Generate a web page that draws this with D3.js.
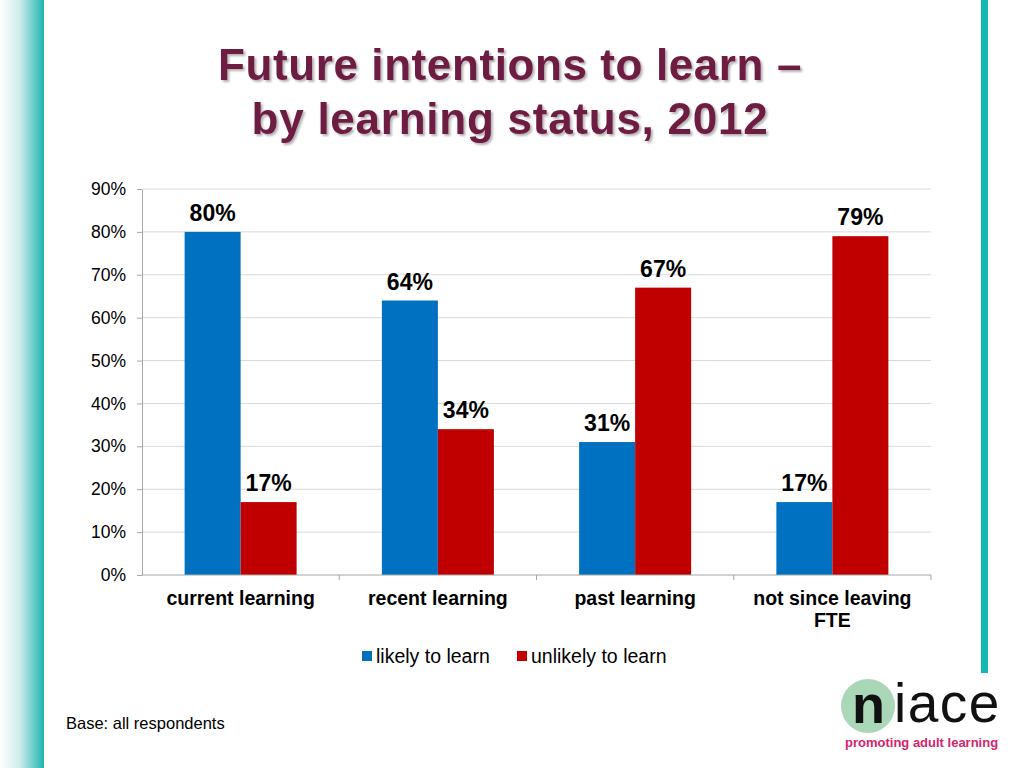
<!DOCTYPE html>
<html><head><meta charset="utf-8">
<script src="https://cdn.jsdelivr.net/npm/d3@7"></script>
<style>body{margin:0;background:#fff;}svg{display:block;font-family:"Liberation Sans",Arial,sans-serif;}</style>
</head><body>
<svg id="c" width="1024" height="768"></svg>
<script>
const categories = ["current learning", "recent learning", "past learning", "not since leaving FTE"];
const categoryLines = [["current learning"], ["recent learning"], ["past learning"], ["not since leaving", "FTE"]];
const seriesNames = ["likely to learn", "unlikely to learn"];
const likely = [80, 64, 31, 17];
const unlikely = [17, 34, 67, 79];
const yTicks = [0, 10, 20, 30, 40, 50, 60, 70, 80, 90];
const colors = ["#0070c0", "#c00000"];

const svg = d3.select("#c");
const defs = svg.append("defs");
const lg = defs.append("linearGradient").attr("id", "lg").attr("x1", 0).attr("x2", 1).attr("y1", 0).attr("y2", 0);
lg.append("stop").attr("offset", 0).attr("stop-color", "#ffffff");
lg.append("stop").attr("offset", 0.45).attr("stop-color", "#cdeceb");
lg.append("stop").attr("offset", 1).attr("stop-color", "#1fb5ae");
svg.append("rect").attr("x", 0).attr("y", 0).attr("width", 44).attr("height", 768).attr("fill", "url(#lg)");
svg.append("rect").attr("x", 981).attr("y", 0).attr("width", 7).attr("height", 673).attr("fill", "#14b8b0");

const flt = defs.append("filter").attr("id", "sh").attr("x", "-5%").attr("y", "-20%").attr("width", "110%").attr("height", "140%");
flt.append("feDropShadow").attr("dx", 2).attr("dy", 2).attr("stdDeviation", 1.2).attr("flood-color", "#000").attr("flood-opacity", 0.3);

const title = svg.append("g").attr("filter", "url(#sh)");
[["Future intentions to learn –", 80, 0.6], ["by learning status, 2012", 134, 0.75]].forEach(([t, y, ls]) => {
  title.append("text").attr("x", 510).attr("y", y).attr("text-anchor", "middle")
    .attr("font-size", 44).attr("font-weight", "bold").attr("letter-spacing", ls).attr("fill", "#6d1a42").text(t);
});

const x0 = d3.scaleBand().domain(categories).range([142, 931]);
const x1 = d3.scaleBand().domain(seriesNames).range([0, 112]);
const y = d3.scaleLinear().domain([0, 90]).range([575, 189]);

const grid = svg.append("g");
grid.selectAll("line").data(yTicks.slice(1)).join("line")
  .attr("x1", 142).attr("x2", 931).attr("y1", d => y(d)).attr("y2", d => y(d))
  .attr("stroke", "#d9d9d9").attr("stroke-width", 1);

const yAxis = svg.append("g").attr("transform", "translate(142,0)")
  .call(d3.axisLeft(y).tickValues(yTicks).tickFormat(d => d + "%").tickSize(5).tickSizeOuter(0));
yAxis.select(".domain").attr("stroke", "#a6a6a6");
yAxis.selectAll(".tick line").attr("stroke", "#a6a6a6");
yAxis.selectAll(".tick text").attr("font-size", 17.5).attr("fill", "#000").attr("x", -16)
  .attr("font-family", "Liberation Sans, Arial, sans-serif");

const data = categories.map((c, i) => ({c, vals: [likely[i], unlikely[i]]}));
const groups = svg.append("g").selectAll("g").data(data).join("g")
  .attr("transform", d => `translate(${x0(d.c) + (x0.bandwidth() - 112) / 2},0)`);
groups.selectAll("rect").data(d => d.vals.map((v, k) => ({v, k}))).join("rect")
  .attr("x", d => x1(seriesNames[d.k])).attr("width", x1.bandwidth())
  .attr("y", d => y(d.v)).attr("height", d => y(0) - y(d.v))
  .attr("fill", d => colors[d.k]);
groups.selectAll("text").data(d => d.vals.map((v, k) => ({v, k}))).join("text")
  .attr("x", d => x1(seriesNames[d.k]) + x1.bandwidth() / 2)
  .attr("y", d => y(d.v) - 11).attr("text-anchor", "middle")
  .attr("font-size", 23).attr("font-weight", "bold").attr("fill", "#000")
  .text(d => d.v + "%");

const xAxis = svg.append("g").attr("transform", "translate(0,575)");
xAxis.append("line").attr("x1", 142).attr("x2", 931).attr("stroke", "#a6a6a6");
xAxis.selectAll("line.t").data(categories).join("line").attr("class", "t")
  .attr("x1", d => x0(d) + x0.bandwidth()).attr("x2", d => x0(d) + x0.bandwidth())
  .attr("y1", 0).attr("y2", 5).attr("stroke", "#a6a6a6");
xAxis.selectAll("text").data(categories).join("text")
  .attr("x", d => x0(d) + x0.bandwidth() / 2).attr("text-anchor", "middle")
  .attr("font-size", 19.5).attr("font-weight", "bold").attr("fill", "#000")
  .each(function(d, i) {
    d3.select(this).selectAll("tspan").data(categoryLines[i]).join("tspan")
      .attr("x", x0(d) + x0.bandwidth() / 2).attr("y", (l, j) => 30 + j * 22).text(l => l);
  });

const legend = svg.append("g");
const legX = [362, 517];
seriesNames.forEach((s, k) => {
  legend.append("rect").attr("x", legX[k]).attr("y", 651).attr("width", 10).attr("height", 10).attr("fill", colors[k]);
  legend.append("text").attr("x", legX[k] + 14).attr("y", 663).attr("font-size", 19.5).attr("fill", "#000").text(s);
});

svg.append("text").attr("x", 66).attr("y", 729).attr("font-size", 16.5).attr("fill", "#000").text("Base: all respondents");

// logo
const logo = svg.append("g");
logo.append("circle").attr("cx", 868).attr("cy", 706).attr("r", 27).attr("fill", "#a9d7b7");
logo.append("text").attr("x", 852).attr("y", 723).attr("font-size", 54).attr("font-weight", "bold").attr("fill", "#111").text("n");
logo.append("text").attr("x", 894).attr("y", 722).attr("font-size", 55).attr("letter-spacing", 1.5).attr("fill", "#111").text("iace");
logo.append("text").attr("x", 845).attr("y", 747).attr("font-size", 13).attr("font-weight", "bold").attr("fill", "#d6246e").text("promoting adult learning");
</script>
</body></html>
